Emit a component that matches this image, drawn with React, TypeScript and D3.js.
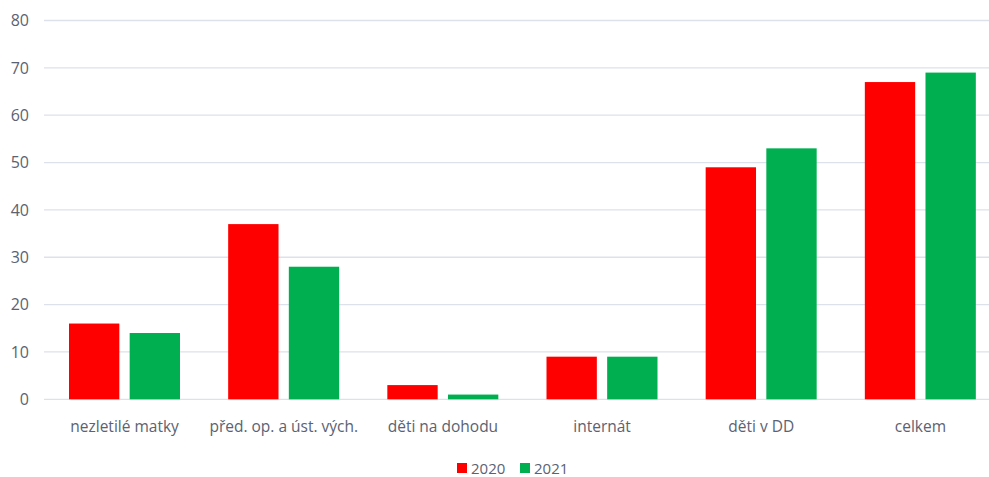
import React from "react";
import * as d3 from "d3";

const categories = ["nezletilé matky", "před. op. a úst. vých.", "děti na dohodu", "internát", "děti v DD", "celkem"];
const series2020 = [16, 37, 3, 9, 49, 67];
const series2021 = [14, 28, 1, 9, 53, 69];
const seriesNames = ["2020", "2021"];
const yTicks = [0, 10, 20, 30, 40, 50, 60, 70, 80];

const W = 989;
const H = 477;
const colors = ["#ff0000", "#00b050"];
const textColor = "#5b6272";
const font = "'Open Sans', 'Noto Sans', sans-serif";

export default function App() {
  const x0 = d3.scaleBand<string>().domain(categories).range([44, 999]).paddingInner(0).paddingOuter(0);
  const x1 = d3.scaleBand<string>().domain(seriesNames).range([25, 25 + 111]).paddingInner(0.17);
  const y = d3.scaleLinear().domain([0, 80]).range([399.3, 20.5]);
  const data = [series2020, series2021];

  return (
    <svg width={W} height={H} style={{ position: "absolute", left: 0, top: 0, background: "#fff" }}>
      {yTicks.map((t) => (
        <g key={t}>
          <line x1={44} x2={W} y1={y(t)} y2={y(t)} stroke="#dde2ea" strokeWidth={1.3} />
          <text x={29} y={y(t)} dy="0.36em" textAnchor="end" fontFamily={font} fontSize={16} fill={textColor}>
            {t}
          </text>
        </g>
      ))}
      {categories.map((c, i) => (
        <g key={c} transform={`translate(${x0(c)},0)`}>
          {seriesNames.map((s, j) => (
            <rect
              key={s}
              x={x1(s)}
              y={y(data[j][i])}
              width={x1.bandwidth()}
              height={y(0) - y(data[j][i])}
              fill={colors[j]}
            />
          ))}
          <text x={x0.bandwidth() / 2 + 1} y={432} textAnchor="middle" fontFamily={font} fontSize={15.5} fill={textColor}>
            {c}
          </text>
        </g>
      ))}
      {seriesNames.map((s, j) => (
        <g key={s} transform={`translate(${457 + j * 63},0)`}>
          <rect x={0} y={463} width={10} height={10} fill={colors[j]} />
          <text x={14} y={473.5} fontFamily={font} fontSize={15} fill={textColor}>
            {s}
          </text>
        </g>
      ))}
    </svg>
  );
}
